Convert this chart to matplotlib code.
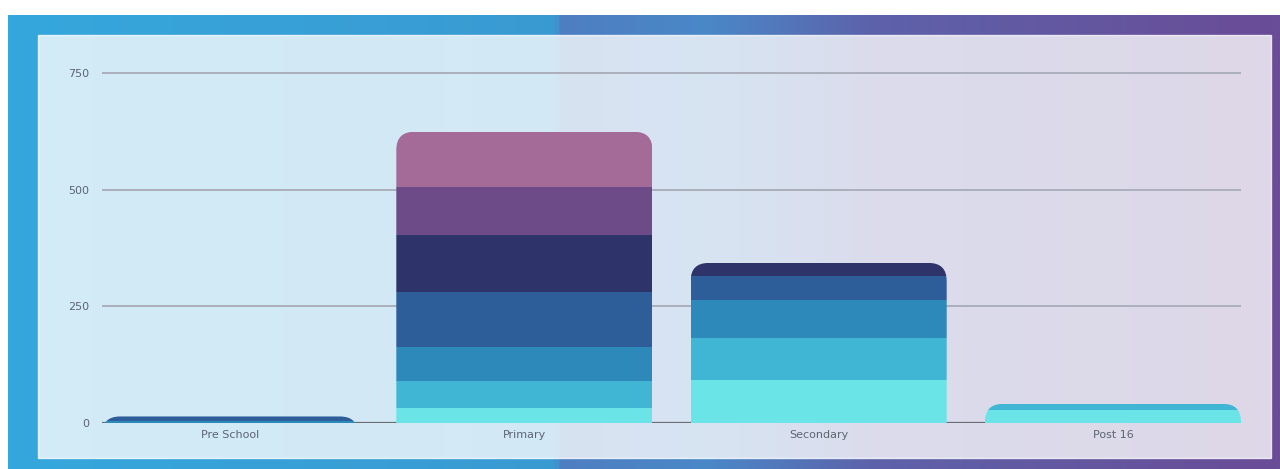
import numpy as np
import matplotlib
matplotlib.use("Agg")
import matplotlib.pyplot as plt
from matplotlib.colors import LinearSegmentedColormap
from matplotlib.patches import FancyBboxPatch, Rectangle

# data
categories = ["Pre School", "Primary", "Secondary", "Post 16"]
s1 = [0, 32, 92, 28]
s2 = [0, 58, 91, 13]
s3 = [5, 72, 80, 0]
s4 = [9, 119, 53, 0]
s5 = [0, 121, 27, 0]
s6 = [0, 103, 0, 0]
s7 = [0, 119, 0, 0]
series = [s1, s2, s3, s4, s5, s6, s7]
colors = ["#6be4e8", "#41b6d4", "#2c89b9", "#2d5e99", "#2e3369", "#6d4b88", "#a56b98"]
yticks = [0, 250, 500, 750]

W, H = 1280, 469
fig = plt.figure(figsize=(W / 100, H / 100), dpi=100, facecolor="white")

# background: blue -> purple backdrop with translucent panel
bg = fig.add_axes([0, 0, 1, 1], zorder=-10)
bg.set_xlim(0, W)
bg.set_ylim(H, 0)
bg.axis("off")
grad = LinearSegmentedColormap.from_list("bg", [
    (0.0, "#35a7dc"), (0.43, "#3a9ad2"), (0.435, "#4e7ec2"),
    (0.55, "#4a88c8"), (0.68, "#5d62aa"), (1.0, "#6a4c97")])
bg.imshow(np.linspace(0, 1, 512)[None, :], cmap=grad, aspect="auto",
          extent=[8, W, H, 15], interpolation="bilinear")
bg.add_patch(Rectangle((38, 35), 1233, 423, facecolor="white", alpha=0.78,
                       edgecolor="white", lw=1))

# main chart
x0, x1 = 102, 1241
ypx0, ypx750 = 423, 73
ymax = 760
ytop = ypx0 - (ypx0 - ypx750) * ymax / 750
ax = fig.add_axes([x0 / W, (H - ypx0) / H, (x1 - x0) / W, (ypx0 - ytop) / H])
ax.set_facecolor("none")

width = 0.87
x = np.arange(len(categories))
ax.set_xlim(-width / 2, x[-1] + width / 2)
ax.set_ylim(0, ymax)

# rounded top clip per category
xpp = (x[-1] + width) / (x1 - x0)
ypp = ymax / (ypx0 - ytop)
aspect = ypp / xpp
r = 18 * xpp
totals = np.sum(series, axis=0)
clips = []
for i, t in enumerate(totals):
    p = FancyBboxPatch((x[i] - width / 2, -100), width, t + 100,
                       boxstyle=f"round,pad=0,rounding_size={r}",
                       mutation_aspect=aspect, transform=ax.transData)
    clips.append(p)

bottom = np.zeros(len(categories))
for vals, c in zip(series, colors):
    bars = ax.bar(x, vals, width, bottom=bottom, color=c, linewidth=0, zorder=3)
    for i, b in enumerate(bars):
        b.set_clip_path(clips[i])
    bottom += np.array(vals)

ax.set_axisbelow(True)
ax.yaxis.grid(True, color="#abafbb", lw=1.4)
ax.axhline(0, color="#6b6c74", lw=1.6, zorder=2)
ax.set_yticks(yticks)
ax.set_xticks(x)
ax.set_xticklabels(categories)
for s in ax.spines.values():
    s.set_visible(False)
ax.tick_params(axis="both", length=0, labelsize=8, labelcolor="#5d6472")
ax.tick_params(axis="y", pad=9)
ax.tick_params(axis="x", pad=5)

fig.savefig("out.png", dpi=100, facecolor="white")
